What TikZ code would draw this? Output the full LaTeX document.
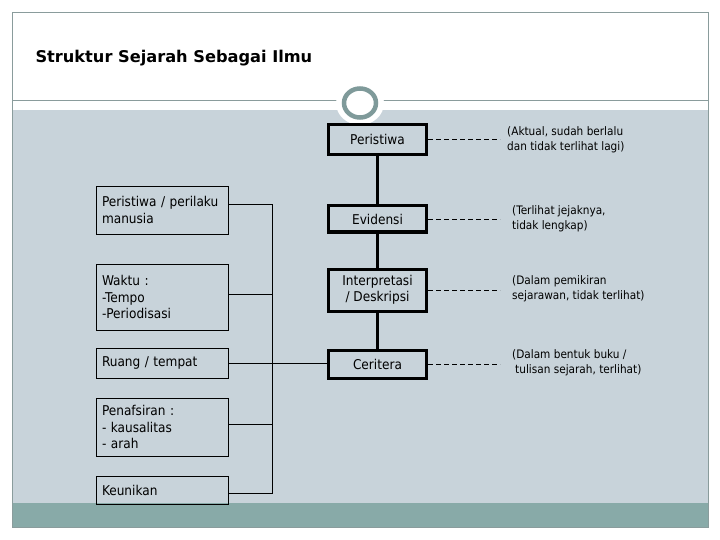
\documentclass[tikz,border=0pt]{standalone}
\usepackage{fontspec}
\setmainfont{DejaVu Sans Condensed}
\newfontfamily\titlefont{DejaVu Sans}
\usetikzlibrary{positioning}
\definecolor{panelgray}{HTML}{C8D3DA}
\definecolor{bandteal}{HTML}{88AAA8}
\definecolor{framegray}{HTML}{8A9C9C}
\definecolor{ringteal}{HTML}{7F9A9A}
\tikzset{x=1pt, y=-1pt, node distance=2.0cm, auto}
\tikzset{
  sidebox/.style={draw, line width=0.8pt, align=left, text width=120pt,
    inner xsep=6pt, minimum width=132pt, font=\fontsize{13.5}{16.5}\selectfont},
  stagebox/.style={draw, line width=3pt, align=center, minimum width=98pt,
    font=\fontsize{13.5}{16.5}\selectfont},
  note/.style={anchor=west, align=left, inner sep=0pt,
    font=\fontsize{11.7}{15}\selectfont},
  noteline/.style={line width=0.8pt, dash pattern=on 5pt off 3pt},
  busline/.style={line width=0.8pt}
}

\begin{document}
\begin{tikzpicture}
\useasboundingbox (0,0) rectangle (720,540);
% slide
\fill[white] (0,0) rectangle (720,540);
\fill[panelgray] (12,110) rectangle (708,503);
\fill[bandteal] (12,503) rectangle (708,527);
\draw[framegray] (12,100) -- (708,100);
\draw[framegray] (12,12) rectangle (708,527);
\fill[white] (360,103) ellipse [x radius=24pt, y radius=22pt];
\draw[ringteal, line width=4.5pt] (360,103) ellipse [x radius=16pt, y radius=14.5pt];
\node[anchor=west, font=\titlefont\bfseries\fontsize{16.2}{19}\selectfont] (title) at (32,58) {Struktur Sejarah Sebagai Ilmu};

% middle column
\node[stagebox, minimum height=30pt] (peristiwa) at (377.5,139.5) {Peristiwa};
\node[stagebox, minimum height=26pt] (evidensi) at (377.5,219) {Evidensi};
\node[stagebox, minimum height=42pt] (interpretasi) at (377.5,290) {Interpretasi\\/ Deskripsi};
\node[stagebox, minimum height=28pt] (ceritera) at (377.5,364) {Ceritera};
\draw[line width=3pt] (peristiwa) -- (evidensi) -- (interpretasi) -- (ceritera);

% left column
\node[sidebox, minimum height=48pt] (perilaku) at (162,210) {Peristiwa / perilaku\\manusia};
\node[sidebox, minimum height=66pt] (waktu) at (162,297) {Waktu :\\-Tempo\\-Periodisasi};
\node[sidebox, minimum height=30pt] (ruang) at (162,363) {Ruang / tempat};
\node[sidebox, minimum height=58pt] (penafsiran) at (162,427) {Penafsiran :\\- kausalitas\\- arah};
\node[sidebox, minimum height=28pt] (keunikan) at (162,490) {Keunikan};

\coordinate (bus1) at (272,204);
\coordinate (bus2) at (272,294);
\coordinate (bus3) at (272,363);
\coordinate (bus4) at (272,424);
\coordinate (bus5) at (272,493);
\draw[busline] (bus1 -| perilaku.east) -- (bus1) -- (bus5) -- (bus5 -| keunikan.east);
\draw[busline] (bus2 -| waktu.east) -- (bus2);
\draw[busline] (bus4 -| penafsiran.east) -- (bus4);
\draw[busline] (ruang.east) -- (ruang.east -| ceritera.west);

% notes
\coordinate (dashend) at (500,0);
\draw[noteline] (peristiwa.east) -- (peristiwa.east -| dashend);
\draw[noteline] (evidensi.east) -- (evidensi.east -| dashend);
\draw[noteline] (interpretasi.east) -- (interpretasi.east -| dashend);
\draw[noteline] (ceritera.east) -- (ceritera.east -| dashend);
\node[note] (aktual) at (507,140) {(Aktual, sudah berlalu\\dan tidak terlihat lagi)};
\node[note] (jejak) at (512,219) {(Terlihat jejaknya,\\tidak lengkap)};
\node[note] (pemikiran) at (512,289) {(Dalam pemikiran\\sejarawan, tidak terlihat)};
\node[note] (buku) at (512,363) {(Dalam bentuk buku /\\\hspace{3pt}tulisan sejarah, terlihat)};
\end{tikzpicture}
\end{document}
